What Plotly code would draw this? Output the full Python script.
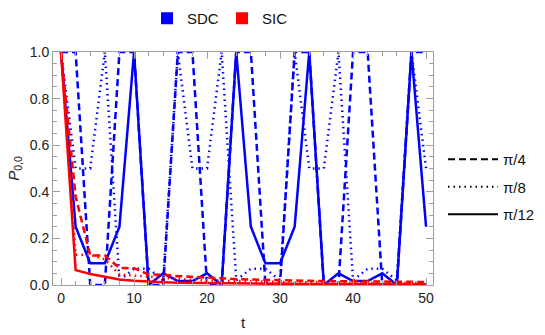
import plotly.graph_objects as go

# ---------------- data ----------------
t = [0, 2, 4, 6, 8, 10, 12, 14, 16, 18, 20, 22, 24, 26, 28, 30, 32, 34, 36, 38, 40, 42, 44, 46, 48, 50]

sdc_pi4 = [1.0, 1.0, 0.0, 0.0, 1.0, 1.0, 0.0, 0.0, 1.0, 1.0, 0.0, 0.0, 1.0,
           1.0, 0.0, 0.0, 1.0, 1.0, 0.0, 0.0, 1.0, 1.0, 0.0, 0.0, 1.0, 1.0]
sdc_pi8 = [1.0, 0.5, 0.5, 1.0, 0.02, 0.07, 0.07, 0.02, 1.0, 0.5, 0.5, 1.0, 0.02,
           0.07, 0.07, 0.02, 1.0, 0.5, 0.5, 1.0, 0.02, 0.07, 0.07, 0.02, 1.0, 0.5]
sdc_pi12 = [1.0, 0.25, 0.093, 0.093, 0.25, 1.0, 0.0, 0.05, 0.017, 0.017, 0.05, 0.0, 1.0,
            0.25, 0.093, 0.093, 0.25, 1.0, 0.0, 0.05, 0.017, 0.017, 0.05, 0.0, 1.0, 0.25]

sic_pi4 = [1.0, 0.38, 0.127, 0.127, 0.073, 0.072, 0.045, 0.044, 0.038, 0.036, 0.031, 0.029, 0.025,
           0.023, 0.021, 0.02, 0.019, 0.018, 0.017, 0.016, 0.015, 0.015, 0.014, 0.014, 0.013, 0.013]
sic_pi8 = [1.0, 0.13, 0.13, 0.11, 0.045, 0.04, 0.035, 0.03, 0.025, 0.022, 0.02, 0.018, 0.016,
           0.015, 0.014, 0.013, 0.012, 0.011, 0.011, 0.01, 0.01, 0.009, 0.009, 0.009, 0.008, 0.008]
sic_pi12 = [1.0, 0.064, 0.047, 0.034, 0.024, 0.018, 0.014, 0.012, 0.010, 0.009, 0.008, 0.007, 0.0065,
            0.006, 0.0055, 0.005, 0.005, 0.0045, 0.0045, 0.004, 0.004, 0.004, 0.0035, 0.0035, 0.0035, 0.003]

angle_labels = ["π/4", "π/8", "π/12"]
group_labels = ["SDC", "SIC"]
x_ticks = [0, 10, 20, 30, 40, 50]
y_ticks = [0.0, 0.2, 0.4, 0.6, 0.8, 1.0]

BLUE = "#0000ff"
RED = "#ff0000"
DASH = "7px,4px"
DOT = "1.5px,4px"
FONT = "Liberation Sans, Arial, sans-serif"

fig = go.Figure()

styles = [DASH, DOT, "solid"]
for series, dash in zip([sdc_pi4, sdc_pi8, sdc_pi12], styles):
    fig.add_trace(go.Scatter(x=t, y=series, mode="lines", showlegend=False,
                             line=dict(color=BLUE, width=2.5, dash=dash)))
for series, dash in zip([sic_pi4, sic_pi8, sic_pi12], styles):
    fig.add_trace(go.Scatter(x=t, y=series, mode="lines", showlegend=False,
                             line=dict(color=RED, width=2.5, dash=dash)))

# top legend (colour)
for name, col in zip(group_labels, [BLUE, RED]):
    fig.add_trace(go.Scatter(x=[None], y=[None], mode="markers", name=name,
                             marker=dict(symbol="square", size=12, color=col),
                             legend="legend"))
# right legend (line style)
for i, (name, dash) in enumerate(zip(angle_labels, styles)):
    fig.add_trace(go.Scatter(x=[None], y=[None], mode="lines", name=name,
                             line=dict(color="black", width=2, dash=dash),
                             legend="legend2", legendgroup=f"g{i}"))

axis_common = dict(
    showgrid=False, zeroline=False, showline=True, linecolor="#a0a0a0", linewidth=1,
    mirror="ticks", ticks="inside", ticklen=7, tickcolor="#a0a0a0", tickwidth=1,
    tickfont=dict(family=FONT, size=14, color="#222222"), automargin=False,
)

fig.update_layout(
    width=545, height=335,
    margin=dict(l=53, r=112, t=52, b=50, autoexpand=False),
    paper_bgcolor="white", plot_bgcolor="white",
    font=dict(family=FONT, size=14, color="#222222"),
    xaxis=dict(range=[-1.1, 50.95], tickvals=x_ticks,
               minor=dict(dtick=2, tick0=0, ticks="inside", ticklen=4, tickcolor="#a0a0a0"),
               title=dict(text="t", font=dict(family=FONT, size=15), standoff=12),
               **axis_common),
    yaxis=dict(range=[0, 1], tickvals=y_ticks, tickformat=".1f",
               minor=dict(dtick=0.05, tick0=0, ticks="inside", ticklen=4, tickcolor="#a0a0a0"),
               title=dict(text="<i>P</i><sub>0,0</sub>", font=dict(family=FONT, size=15), standoff=6),
               **axis_common),
    legend=dict(orientation="h", xref="container", yref="container",
                x=147 / 545, y=1 - 18.5 / 335, xanchor="left", yanchor="middle",
                font=dict(family=FONT, size=15, color="#111111"),
                itemwidth=30, entrywidth=30, bgcolor="rgba(0,0,0,0)"),
    legend2=dict(orientation="v", xref="container", yref="container",
                 x=443 / 545, y=1 - 143 / 335, xanchor="left", yanchor="top",
                 font=dict(family=FONT, size=15, color="#111111"),
                 itemwidth=50, traceorder="grouped", tracegroupgap=5,
                 bgcolor="rgba(0,0,0,0)"),
)

fig.write_html("out.html", config={"displayModeBar": False},
               post_script="document.body.style.margin='0px';")
